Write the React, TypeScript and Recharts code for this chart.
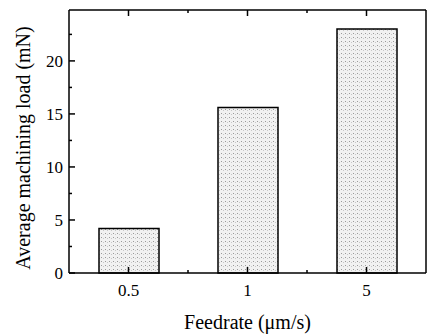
import React from 'react';
import { BarChart, Bar, XAxis, YAxis, Label } from 'recharts';

const feedrates = ['0.5', '1', '5'];
const loads = [4.2, 15.6, 23.0];
const yTicks = [0, 2.5, 5, 7.5, 10, 12.5, 15, 17.5, 20, 22.5];
const yMajor = [0, 5, 10, 15, 20];

const data = feedrates.map((f, i) => ({ feed: f, load: loads[i] }));

const FONT = "'Liberation Serif', 'Times New Roman', serif";
const INK = '#000';

// bottom axis: inward major tick at category centre, minor at band edge, value below
const BottomTick = (props: any) => {
  const { x, y, payload, index } = props;
  const half = payload && payload.offset ? payload.offset : 0;
  return (
    <g>
      <line x1={x} y1={y} x2={x} y2={y - 6} stroke={INK} strokeWidth={1.5} />
      {index < feedrates.length - 1 && (
        <line x1={x + half} y1={y} x2={x + half} y2={y - 3} stroke={INK} strokeWidth={1.5} />
      )}
      <text x={x} y={y + 23} textAnchor="middle" fontFamily={FONT} fontSize={17} fill={INK}>
        {payload.value}
      </text>
    </g>
  );
};

const TopTick = (props: any) => {
  const { x, y, payload, index } = props;
  const half = payload && payload.offset ? payload.offset : 0;
  return (
    <g>
      <line x1={x} y1={y} x2={x} y2={y + 6} stroke={INK} strokeWidth={1.5} />
      {index < feedrates.length - 1 && (
        <line x1={x + half} y1={y} x2={x + half} y2={y + 3} stroke={INK} strokeWidth={1.5} />
      )}
    </g>
  );
};

const LeftTick = (props: any) => {
  const { x, y, payload } = props;
  const major = yMajor.includes(payload.value);
  return (
    <g>
      <line x1={x} y1={y} x2={x + (major ? 6 : 3)} y2={y} stroke={INK} strokeWidth={1.5} />
      {major && (
        <text x={x - 6} y={y + 6} textAnchor="end" fontFamily={FONT} fontSize={17} fill={INK}>
          {payload.value}
        </text>
      )}
    </g>
  );
};

const RightTick = (props: any) => {
  const { x, y, payload } = props;
  const major = yMajor.includes(payload.value);
  return <line x1={x} y1={y} x2={x - (major ? 6 : 3)} y2={y} stroke={INK} strokeWidth={1.5} />;
};

const XTitle = (props: any) => {
  const { x, y, width } = props.viewBox;
  return (
    <text x={x + width / 2} y={y + 56} textAnchor="middle" fontFamily={FONT} fontSize={20} fill={INK}>
      Feedrate (μm/s)
    </text>
  );
};

const YTitle = () => (
  <text x={0} y={0} transform="translate(30, 148) rotate(-90)" textAnchor="middle" fontFamily={FONT} fontSize={20} fill={INK}>
    Average machining load (mN)
  </text>
);

export default function App() {
  return (
    <div style={{ position: 'absolute', left: 0, top: 0, width: 427, height: 335, background: '#fff' }}>
      <svg width={0} height={0} style={{ position: 'absolute' }}>
        <defs>
          <pattern id="stipple" width="4" height="4" patternUnits="userSpaceOnUse">
            <rect width="4" height="4" fill="#f1f1f1" />
            <rect x="1" y="1" width="1" height="1" fill="#9a9a9a" />
            <rect x="3" y="2" width="1" height="1" fill="#c8c8c8" />
          </pattern>
        </defs>
      </svg>
      <BarChart width={427} height={335} data={data} margin={{ top: 9, right: 0, bottom: 0, left: 0 }}>
        <XAxis dataKey="feed" height={62} tickSize={0} tickMargin={0} axisLine={{ stroke: INK, strokeWidth: 1.5 }} tick={<BottomTick />} interval={0}>
          <Label content={<XTitle />} />
        </XAxis>
        <XAxis xAxisId="top" dataKey="feed" orientation="top" height={1} tickSize={0} tickMargin={0} axisLine={{ stroke: INK, strokeWidth: 1.5 }} tick={<TopTick />} interval={0} />
        <YAxis domain={[0, 24.8]} ticks={yTicks} width={69} tickSize={0} tickMargin={0} axisLine={{ stroke: INK, strokeWidth: 1.5 }} tick={<LeftTick />} interval={0}>
          <Label content={<YTitle />} />
        </YAxis>
        <YAxis yAxisId="right" orientation="right" domain={[0, 24.8]} ticks={yTicks} width={1} tickSize={0} tickMargin={0} axisLine={{ stroke: INK, strokeWidth: 1.5 }} tick={<RightTick />} interval={0} />
        <Bar dataKey="load" fill="url(#stipple)" stroke={INK} strokeWidth={1.5} barSize={60} isAnimationActive={false} />
      </BarChart>
    </div>
  );
}
